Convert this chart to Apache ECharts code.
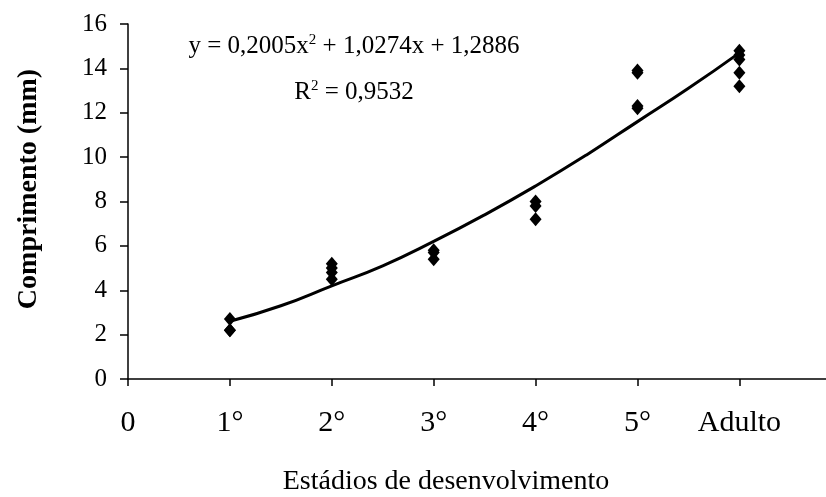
<!DOCTYPE html>
<html>
<head>
<meta charset="utf-8">
<script src="https://cdn.jsdelivr.net/npm/echarts@6/dist/echarts.min.js"></script>
<style>
  html, body { margin: 0; padding: 0; background: #fff; }
  #chart { width: 826px; height: 497px; }
</style>
</head>
<body>
<div id="chart"></div>
<script>
// Dados
const stageLabels = ['0', '1°', '2°', '3°', '4°', '5°', 'Adulto'];
const stage1 = [2.7, 2.2, 2.2];
const stage2 = [5.2, 5.0, 4.8, 4.5];
const stage3 = [5.8, 5.7, 5.4];
const stage4 = [8.0, 7.8, 7.2];
const stage5 = [13.9, 13.8, 12.3, 12.2];
const adult = [14.8, 14.6, 14.4, 13.8, 13.2];

// Linha de tendência
const trendX = [1, 1.5, 2, 2.5, 3, 3.5, 4, 4.5, 5, 5.5, 6];
const trendY = [2.6, 3.3, 4.2, 5.1, 6.2, 7.4, 8.7, 10.1, 11.6, 13.1, 14.7];

const font = '"Liberation Serif", "Times New Roman", serif';

let points = [];
[stage1, stage2, stage3, stage4, stage5, adult].forEach((vals, i) => {
    vals.forEach(v => points.push([i + 1, v]));
});

let chart = echarts.init(document.getElementById('chart'));

const eqRich = {
    n: { fontFamily: font, fontSize: 25, color: '#000' },
    s: { fontFamily: font, fontSize: 15, color: '#000', verticalAlign: 'top', padding: [0, 0, 12, 0] }
};

let option = {
    animation: false,
    grid: { left: 128, right: 0, top: 24, bottom: 118 },
    xAxis: {
        type: 'value',
        min: 0,
        max: 6.85,
        interval: 1,
        splitLine: { show: false },
        axisLine: { lineStyle: { color: '#000', width: 1.5 } },
        axisTick: { show: true, length: 7, lineStyle: { color: '#000', width: 1.5 } },
        axisLabel: {
            color: '#000', fontFamily: font, fontSize: 30, margin: 29,
            showMaxLabel: false,
            formatter: v => stageLabels[v] !== undefined ? stageLabels[v] : ''
        }
    },
    yAxis: {
        type: 'value',
        min: 0,
        max: 16,
        interval: 2,
        splitLine: { show: false },
        axisLine: { show: true, lineStyle: { color: '#000', width: 1.5 } },
        axisTick: { show: true, length: 8, lineStyle: { color: '#000', width: 1.5 } },
        axisLabel: { color: '#000', fontFamily: font, fontSize: 25, margin: 21 }
    },
    graphic: [
        {
            type: 'text', x: 29, y: 189, rotation: Math.PI / 2,
            style: {
                text: 'Comprimento (mm)', fill: '#000',
                font: 'bold 28px ' + font, textAlign: 'center', textVerticalAlign: 'middle'
            }
        },
        {
            type: 'text', x: 446, y: 482,
            style: {
                text: 'Estádios de desenvolvimento', fill: '#000',
                font: '28px ' + font, textAlign: 'center', textVerticalAlign: 'middle'
            }
        },
        {
            type: 'text', x: 354, y: 46,
            style: {
                text: '{n|y = 0,2005x}{s|2}{n| + 1,0274x + 1,2886}',
                textAlign: 'center', textVerticalAlign: 'middle',
                rich: eqRich
            }
        },
        {
            type: 'text', x: 354, y: 92,
            style: {
                text: '{n|R}{s|2}{n| = 0,9532}',
                textAlign: 'center', textVerticalAlign: 'middle',
                rich: eqRich
            }
        }
    ],
    series: [
        {
            name: 'Tendência',
            type: 'line',
            smooth: true,
            showSymbol: false,
            data: trendX.map((x, i) => [x, trendY[i]]),
            lineStyle: { color: '#000', width: 3 },
            z: 2
        },
        {
            name: 'Comprimento',
            type: 'scatter',
            symbol: 'diamond',
            symbolSize: [12, 14],
            data: points,
            itemStyle: { color: '#000', opacity: 1 },
            z: 3
        }
    ]
};

chart.setOption(option);
</script>
</body>
</html>
